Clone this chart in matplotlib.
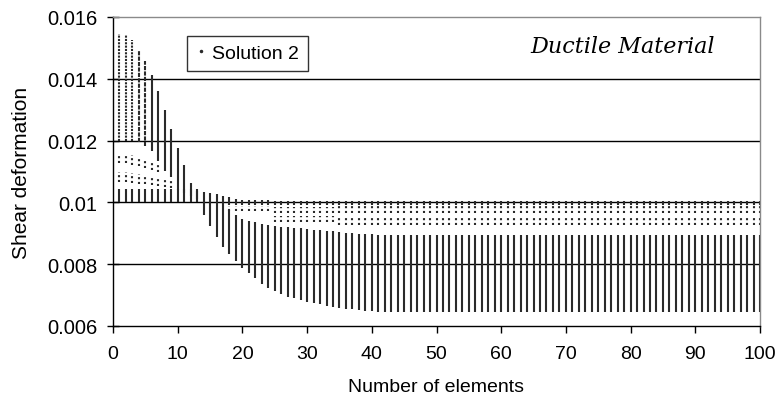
import numpy as np
import matplotlib
matplotlib.use('Agg')
import matplotlib.pyplot as plt
from matplotlib.lines import Line2D
from matplotlib.ticker import FuncFormatter

nan = np.nan

# Number of elements (x)
n_elements = list(range(1, 101))

# Upper column (tall descending column for small n, short cap near 0.01 for larger n)
upper_top = ([0.01545, 0.01542, 0.01526, 0.01493, 0.01457, 0.01412, 0.01360, 0.01300,
              0.01238, 0.01175, 0.01120, 0.01063, 0.01037,
              0.01035, 0.01030, 0.01026, 0.01022, 0.01017, 0.01012, 0.01009,
              0.01008, 0.01008, 0.01007, 0.01007] + [0.01006] * 76)
upper_bot = ([0.01200, 0.01200, 0.01200, 0.01195, 0.01184, 0.01167, 0.01135, 0.01103,
              0.01082, 0.01040, 0.01030, 0.01020, 0.01010,
              0.01000, 0.01000, 0.00995, 0.00990] + [0.00992] * 83)

# First sparse (dotted) cluster
dot1_top = ([0.01158, 0.01156, 0.01152, 0.01148, 0.01142, 0.01135, 0.01128]
            + [nan] * 10
            + [0.00988] * 7 + [0.00985] * 10 + [0.00987] * 66)
dot1_bot = ([0.01128, 0.01126, 0.01122, 0.01118, 0.01112, 0.01105, 0.01098]
            + [nan] * 10
            + [0.00972] * 7 + [0.00966] * 10 + [0.00965] * 66)

# Second sparse (dotted) cluster
dot2_top = ([0.01098, 0.01097, 0.01095, 0.01092, 0.01088, 0.01084, 0.01080, 0.01076, 0.01072]
            + [nan] * 15
            + [0.00955] * 76)
dot2_bot = ([0.01066, 0.01065, 0.01063, 0.01060, 0.01058, 0.01055, 0.01052, 0.01050, 0.01048]
            + [nan] * 15
            + [0.00935] * 10 + [0.00928] * 66)

# Lower dense band
lower_top = ([0.01044] * 13
             + [0.01000, 0.01000, 0.00995, 0.00990, 0.00975, 0.00960, 0.00945, 0.00940,
                0.00935, 0.00930, 0.00927, 0.00924, 0.00922, 0.00920, 0.00918, 0.00916,
                0.00914, 0.00912, 0.00910, 0.00908, 0.00906, 0.00904, 0.00902, 0.00900,
                0.00899, 0.00898, 0.00897]
             + [0.00896] * 10 + [0.00895] * 50)
lower_bot = ([0.01000] * 13
             + [0.00960, 0.00924, 0.00888, 0.00855, 0.00833, 0.00810, 0.00787, 0.00770,
                0.00754, 0.00737, 0.00724, 0.00713, 0.00702, 0.00694, 0.00689, 0.00684,
                0.00679, 0.00675, 0.00670, 0.00666, 0.00662, 0.00659, 0.00656, 0.00654,
                0.00652, 0.00650, 0.00648]
             + [0.00646] * 10 + [0.00645] * 50)

y_ticks = [0.006, 0.008, 0.010, 0.012, 0.014, 0.016]
x_ticks = list(range(0, 101, 10))
series_label = "Solution 2"

for arr in (upper_top, upper_bot, dot1_top, dot1_bot, dot2_top, dot2_bot, lower_top, lower_bot):
    assert len(arr) == 100, len(arr)

plt.rcParams['font.family'] = ['Liberation Sans', 'DejaVu Sans']

fig = plt.figure(figsize=(7.77, 4.10), dpi=100)
ax = fig.add_axes([113 / 777, 83 / 410, 647 / 777, 309 / 410])

x = np.array(n_elements)
ut, ub = np.array(upper_top), np.array(upper_bot)
d1t, d1b = np.array(dot1_top), np.array(dot1_bot)
d2t, d2b = np.array(dot2_top), np.array(dot2_bot)
lt, lb = np.array(lower_top), np.array(lower_bot)

col = '#2a2a2a'
lw = 1.5

# gridlines
for yv in y_ticks[1:-1]:
    ax.axhline(yv, color='black', lw=1.0, zorder=1)

m1 = x <= 3
m2 = (x >= 4) & (x <= 5)
m3 = x >= 6
ax.vlines(x[m1], ub[m1], ut[m1], colors=col, lw=lw, linestyles=[(0, (1.0, 0.6))], zorder=2)
ax.vlines(x[m2], ub[m2], ut[m2], colors=col, lw=lw, linestyles=[(0, (2.0, 0.6))], zorder=2)
ax.vlines(x[m3], ub[m3], ut[m3], colors=col, lw=lw, zorder=2)

k = ~np.isnan(d1t)
ax.vlines(x[k], d1b[k], d1t[k], colors=col, lw=lw, linestyles=[(0, (1.0, 1.3))], zorder=2)
k = ~np.isnan(d2t)
ax.vlines(x[k], d2b[k], d2t[k], colors=col, lw=lw, linestyles=[(0, (1.0, 1.3))], zorder=2)
ax.vlines(x, lb, lt, colors=col, lw=lw, zorder=2)

ax.set_xlim(0, 100)
ax.set_ylim(0.006, 0.016)
ax.set_xticks(x_ticks)
ax.set_yticks(y_ticks)
ax.yaxis.set_major_formatter(FuncFormatter(lambda v, p: '%g' % round(v, 4)))

for s in ('left', 'bottom'):
    ax.spines[s].set_color('black')
    ax.spines[s].set_linewidth(1.0)
for s in ('top', 'right'):
    ax.spines[s].set_color('#8a8a8a')
    ax.spines[s].set_linewidth(1.0)

ax.tick_params(axis='y', direction='inout', length=9, width=1.0, labelsize=14.5, pad=7)
ax.tick_params(axis='x', direction='out', length=5, width=1.0, labelsize=14, pad=9)

ax.set_xlabel('Number of elements', fontsize=14, labelpad=11)
ax.set_ylabel('Shear deformation', fontsize=15, labelpad=11)

handle = Line2D([], [], marker='.', markersize=3, ls='none', color=col)
leg = ax.legend([handle], [series_label], loc='upper left', bbox_to_anchor=(0.114, 0.94),
                fontsize=14, frameon=True, fancybox=False, borderpad=0.45,
                handlelength=0.6, handletextpad=0.25, borderaxespad=0)
leg.get_frame().set_edgecolor('black')
leg.get_frame().set_linewidth(1.0)

ax.text(0.787, 0.905, 'Ductile Material', transform=ax.transAxes, fontsize=16,
        family='DejaVu Serif', style='italic', ha='center', va='center')

fig.savefig('out.png', dpi=100)
